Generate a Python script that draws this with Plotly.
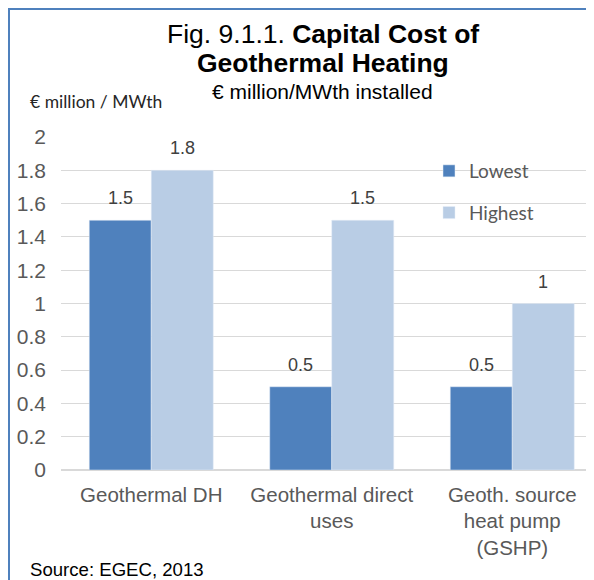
import plotly.graph_objects as go

categories = ["Geothermal DH", "Geothermal direct<br>uses", "Geoth. source<br>heat pump<br>(GSHP)"]
lowest = [1.5, 0.5, 0.5]
highest = [1.8, 1.5, 1.0]
series_names = ["Lowest", "Highest"]
y_ticks = [0, 0.2, 0.4, 0.6, 0.8, 1, 1.2, 1.4, 1.6, 1.8, 2]
y_tick_text = ["0", "0.2", "0.4", "0.6", "0.8", "1", "1.2", "1.4", "1.6", "1.8", "2"]

# page has an 8px body margin; figure is sized so it fits the 594x580 window
OFF = 8
W, H = 594 - OFF, 580 - OFF
# plot area in page pixels: x 61..594, y 137 (value 2) .. 470 (value 0)
L, R = 61 - OFF, 0
T = 137 - OFF
B = H - (470 - OFF)
PW, PH = W - L - R, H - T - B

def px(x_page):
    return (x_page - OFF - L) / PW

def py(y_page):
    return (H - B - (y_page - OFF)) / PH

DARK = "#4F81BD"
LIGHT = "#B9CDE5"
GRAY = "#595959"
ARIAL = "Liberation Sans, Arial, sans-serif"
CAL = "Lato, Carlito, Calibri, sans-serif"

fig = go.Figure()
fig.add_trace(go.Bar(x=categories, y=lowest, name=series_names[0], marker_color=DARK,
                     legendgroup="a", hoverinfo="skip"))
fig.add_trace(go.Bar(x=categories, y=highest, name=series_names[1], marker_color=LIGHT,
                     legendgroup="b", hoverinfo="skip"))

bargap = 0.313
cat_px = 180.5
xmax = -0.5 + PW / cat_px
bar_px = (1 - bargap) / 2 * cat_px

annotations = []
for vals, sh in ((lowest, -bar_px / 2), (highest, bar_px / 2)):
    for c, v in zip(categories, vals):
        annotations.append(dict(x=c, y=v, xref="x", yref="y", text=f"{v:g}", showarrow=False,
                                xshift=sh, yshift=22, font=dict(family=ARIAL, size=18, color="#404040")))

def txt(x, y, text, font, xanchor="center"):
    return dict(x=px(x), y=py(y), xref="paper", yref="paper", showarrow=False,
                xanchor=xanchor, yanchor="middle", text=text, font=font)

annotations += [
    txt(322.5, 33.5, "Fig. 9.1.1. <b>Capital Cost of</b>", dict(family=ARIAL, size=26.5, color="#000000")),
    txt(322.5, 63, "<b>Geothermal Heating</b>", dict(family=ARIAL, size=26.5, color="#000000")),
    txt(322.5, 91.5, "€ million/MWth installed", dict(family=ARIAL, size=21, color="#000000")),
    txt(28, 101, "€ million / MWth", dict(family=CAL, size=17.5, color="#262626"), xanchor="left"),
    txt(28, 569, "Source: EGEC, 2013", dict(family=ARIAL, size=18.6, color="#000000"), xanchor="left"),
]

shapes = [
    dict(type="line", xref="paper", yref="paper", x0=px(9), x1=px(9), y0=py(9), y1=py(600),
         line=dict(color="#4F81BD", width=2)),
    dict(type="line", xref="paper", yref="paper", x0=px(8), x1=px(620), y0=py(9), y1=py(9),
         line=dict(color="#4F81BD", width=2)),
]

fig.update_layout(
    width=W, height=H,
    margin=dict(l=L, r=R, t=T, b=B),
    paper_bgcolor="white", plot_bgcolor="white",
    barmode="group", bargap=bargap, bargroupgap=0,
    showlegend=True,
    legend=dict(x=px(429), y=py(152), xanchor="left", yanchor="top",
                bgcolor="rgba(0,0,0,0)", tracegroupgap=14,
                font=dict(family=CAL, size=19, color=GRAY)),
    annotations=annotations,
    shapes=shapes,
    xaxis=dict(range=[-0.5, xmax], showgrid=False, showline=False, zeroline=False,
               ticks="", ticklabelstandoff=10,
               tickfont=dict(family=ARIAL, size=20.5, color=GRAY), fixedrange=True),
    yaxis=dict(range=[0, 2], tickvals=y_ticks, ticktext=y_tick_text,
               showgrid=True, gridcolor="#D9D9D9", gridwidth=1,
               zeroline=True, zerolinecolor="#D9D9D9", zerolinewidth=1.5,
               showline=False, ticks="", ticklabelstandoff=14,
               tickfont=dict(family=ARIAL, size=21, color=GRAY), fixedrange=True),
)

fig.write_html("out.html")
